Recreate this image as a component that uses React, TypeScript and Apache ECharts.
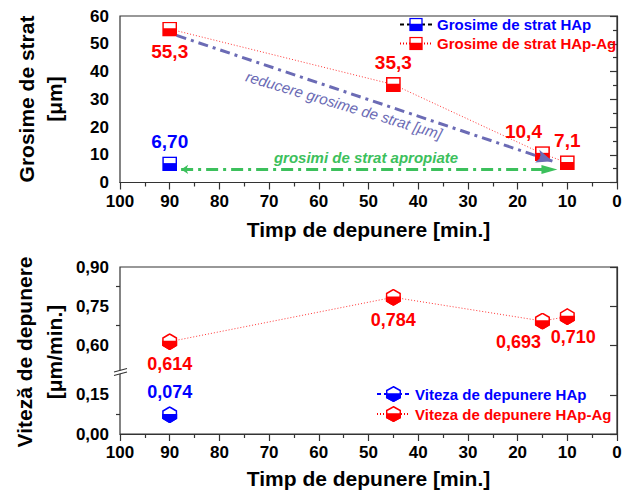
import React, { useEffect, useRef } from 'react';
import * as echarts from 'echarts';

// ---------- data ----------
const timeCategories = [90, 45, 15, 10]; // Timp de depunere [min.]
const thicknessHApTime = [90];
const thicknessHAp = [6.7];
const thicknessHApAg = [55.3, 35.3, 10.4, 7.1];
const rateHApTime = [90];
const rateHAp = [0.074];
const rateHApAg = [0.614, 0.784, 0.693, 0.71];
const rateUpperTicks = [0.6, 0.75, 0.9];
const rateUpperMinor = [0.675, 0.825];
const rateLowerTicks = [0, 0.15];
const rateLowerMinor = [0.075];
const reduceArrow = [[88.6, 53.0], [13.0, 7.7]];
const similarArrow = [[87.7, 4.7], [13.6, 4.7]];

const seriesNames = [
  'Grosime de strat HAp',
  'Grosime de strat HAp-Ag',
  'Viteza de depunere HAp',
  'Viteza de depunere HAp-Ag',
];

// ---------- styles ----------
const FONT = "'Liberation Sans', Arial, sans-serif";
const RED = '#ff0000';
const BLUE = '#0000ff';
const PURPLE = '#6b6bb5';
const GREEN = '#3cc05c';
const AXIS = '#333333';

const topLabelPos = ['bottom', 'top', 'top', 'top'];
const topLabelOffset = [[0, 0], [0, 0], [-19, 0], [0, 0]];
const botLabelOffset = [[0, 0], [0, 0], [-24, -2], [6, -2]];

function svgUri(svg: string) {
  return 'image://data:image/svg+xml;charset=utf-8,' + encodeURIComponent(svg);
}
function squareSymbol(c: string) {
  return svgUri(
    `<svg xmlns="http://www.w3.org/2000/svg" width="30" height="30" viewBox="0 0 15 15"><rect x="0.8" y="0.8" width="13.4" height="13.4" fill="#ffffff" stroke="${c}" stroke-width="1.6"/><rect x="0.8" y="6.7" width="13.4" height="7.5" fill="${c}"/></svg>`
  );
}
function hexSymbol(c: string) {
  return svgUri(
    `<svg xmlns="http://www.w3.org/2000/svg" width="32" height="34" viewBox="0 0 16 17"><polygon points="8,0.8 15.2,4.8 15.2,12.2 8,16.2 0.8,12.2 0.8,4.8" fill="#ffffff" stroke="${c}" stroke-width="1.6" stroke-linejoin="miter"/><polygon points="0.8,8.5 15.2,8.5 15.2,12.2 8,16.2 0.8,12.2" fill="${c}" stroke="${c}" stroke-width="1.6"/></svg>`
  );
}

const fmt = (dec: number) => (p: any) => Number(p.value[1]).toFixed(dec).replace('.', ',');

const tickLine = { color: AXIS, width: 1.2 };
const labelText = { color: '#000', fontSize: 17, fontWeight: 'bold', fontFamily: FONT };
const nameText = { color: '#000', fontSize: 21, fontWeight: 'bold', fontFamily: FONT };

function xAxisFull(gridIndex: number, nameGap: number) {
  return {
    gridIndex,
    type: 'value',
    min: 0,
    max: 100,
    interval: 10,
    inverse: true,
    axisLine: { show: true, lineStyle: tickLine },
    axisTick: { show: true, length: 7, lineStyle: tickLine },
    minorTick: { show: true, splitNumber: 2, length: 4, lineStyle: tickLine },
    axisLabel: { show: true, margin: 10, showMinLabel: true, showMaxLabel: true, ...labelText },
    splitLine: { show: false },
    minorSplitLine: { show: false },
    name: 'Timp de depunere [min.]',
    nameLocation: 'middle',
    nameGap,
    nameMoveOverlap: false,
    nameTextStyle: nameText,
  };
}

function hiddenX(gridIndex: number) {
  return {
    gridIndex,
    type: 'value',
    min: 0,
    max: 100,
    inverse: true,
    axisLine: { show: false },
    axisTick: { show: false },
    axisLabel: { show: false },
    splitLine: { show: false },
  };
}

function customY(gridIndex: number, min: number, max: number, ticks: number[], len: number, labels: boolean) {
  return {
    gridIndex,
    type: 'value',
    position: 'left',
    min,
    max,
    axisLine: { show: labels, lineStyle: tickLine },
    axisTick: { show: true, length: len, customValues: ticks, lineStyle: tickLine },
    axisLabel: {
      show: labels,
      margin: 11,
      customValues: ticks,
      formatter: (v: number) => v.toFixed(2).replace('.', ','),
      ...labelText,
    },
    splitLine: { show: false },
  };
}

export default function App() {
  const ref = useRef<HTMLDivElement>(null);

  useEffect(() => {
    if (!ref.current) return;
    const chart = echarts.init(ref.current, undefined, { renderer: 'svg' });

    const topAgData = timeCategories.map((t, i) => ({
      value: [t, thicknessHApAg[i]],
      label: { position: topLabelPos[i], offset: topLabelOffset[i] },
    }));
    const botAgData = timeCategories.map((t, i) => ({
      value: [t, rateHApAg[i]],
      label: { position: 'bottom', offset: botLabelOffset[i] },
    }));

    const option: any = {
      animation: false,
      backgroundColor: '#ffffff',
      grid: [
        { left: 120, right: 11, top: 16, height: 166.5, show: true, borderColor: AXIS, borderWidth: 1.2, outerBoundsMode: 'none' },
        { left: 120, right: 11, top: 267, height: 107, outerBoundsMode: 'none' },
        { left: 120, right: 11, top: 374, height: 60, outerBoundsMode: 'none' },
        { left: 120, right: 11, top: 267, height: 167, show: true, borderColor: AXIS, borderWidth: 1.2, outerBoundsMode: 'none' },
      ],
      xAxis: [xAxisFull(0, 36), hiddenX(1), xAxisFull(2, 34), { ...hiddenX(3), show: false }],
      yAxis: [
        {
          gridIndex: 0,
          type: 'value',
          min: 0,
          max: 60,
          interval: 10,
          axisLine: { show: true, lineStyle: tickLine },
          axisTick: { show: true, length: 7, lineStyle: tickLine },
          minorTick: { show: true, splitNumber: 2, length: 4, lineStyle: tickLine },
          axisLabel: { show: true, margin: 11, ...labelText },
          splitLine: { show: false },
          minorSplitLine: { show: false },
        },
        customY(1, 0.49, 0.9, rateUpperTicks, 7, true),
        customY(1, 0.49, 0.9, rateUpperMinor, 4, false),
        customY(2, 0, 0.23, rateLowerTicks, 7, true),
        customY(2, 0, 0.23, rateLowerMinor, 4, false),
        { gridIndex: 3, type: 'value', show: false, min: 0, max: 1 },
      ],
      legend: [
        {
          orient: 'vertical',
          left: 399,
          top: 16,
          padding: 0,
          itemWidth: 32,
          itemHeight: 17,
          itemGap: 2,
          selectedMode: false,
          textStyle: { fontSize: 15, lineHeight: 17, fontWeight: 'bold', fontFamily: FONT },
          data: [
            { name: seriesNames[0], textStyle: { color: BLUE } },
            { name: seriesNames[1], textStyle: { color: RED } },
          ],
        },
        {
          orient: 'vertical',
          left: 376,
          top: 385,
          padding: 0,
          itemWidth: 33,
          itemHeight: 20,
          itemGap: 2,
          selectedMode: false,
          textStyle: { fontSize: 15, lineHeight: 18, fontWeight: 'bold', fontFamily: FONT },
          data: [
            { name: seriesNames[2], textStyle: { color: BLUE } },
            { name: seriesNames[3], textStyle: { color: RED } },
          ],
        },
      ],
      series: [
        {
          name: seriesNames[0],
          type: 'line',
          xAxisIndex: 0,
          yAxisIndex: 0,
          data: thicknessHApTime.map((t, i) => [t, thicknessHAp[i]]),
          symbol: squareSymbol(BLUE),
          symbolSize: 15,
          itemStyle: { color: BLUE },
          lineStyle: { color: '#000000', width: 1, type: [4, 3] },
          label: { show: true, position: 'top', distance: 5, formatter: fmt(2), color: BLUE, fontSize: 19, fontWeight: 'bold', fontFamily: FONT },
          emphasis: { disabled: true },
          silent: true,
          z: 3,
        },
        {
          name: seriesNames[1],
          type: 'line',
          xAxisIndex: 0,
          yAxisIndex: 0,
          data: topAgData,
          symbol: squareSymbol(RED),
          symbolSize: 15,
          itemStyle: { color: RED },
          lineStyle: { color: RED, width: 0.8, type: [1, 2] },
          label: { show: true, distance: 5, formatter: fmt(1), color: RED, fontSize: 19, fontWeight: 'bold', fontFamily: FONT },
          emphasis: { disabled: true },
          silent: true,
          z: 3,
        },
        {
          name: 'arrows',
          type: 'scatter',
          xAxisIndex: 0,
          yAxisIndex: 0,
          data: [],
          silent: true,
          z: 5,
          markLine: {
            silent: true,
            animation: false,
            label: { show: false },
            emphasis: { disabled: true },
            data: [
              [
                { coord: reduceArrow[0], symbol: 'none', lineStyle: { color: PURPLE, width: 3, type: [10, 5, 3, 5] } },
                { coord: reduceArrow[1], symbol: 'arrow', symbolSize: [10, 16], lineStyle: { color: PURPLE, width: 3, type: [10, 5, 3, 5] } },
              ],
              [
                { coord: similarArrow[0], symbol: 'arrow', symbolSize: [7, 7], lineStyle: { color: GREEN, width: 3, type: [12, 5, 3, 5] } },
                { coord: similarArrow[1], symbol: 'triangle', symbolSize: [9, 16], lineStyle: { color: GREEN, width: 3, type: [12, 5, 3, 5] } },
              ],
            ],
          },
        },
        {
          name: seriesNames[2],
          type: 'line',
          xAxisIndex: 2,
          yAxisIndex: 3,
          data: rateHApTime.map((t, i) => [t, rateHAp[i]]),
          symbol: hexSymbol(BLUE),
          symbolSize: [16, 17],
          itemStyle: { color: BLUE },
          lineStyle: { color: BLUE, width: 1, type: [4, 3] },
          label: { show: true, position: 'top', distance: 5, formatter: fmt(3), color: BLUE, fontSize: 18, fontWeight: 'bold', fontFamily: FONT },
          emphasis: { disabled: true },
          silent: true,
          z: 3,
        },
        {
          name: seriesNames[3],
          type: 'line',
          xAxisIndex: 1,
          yAxisIndex: 1,
          data: botAgData,
          symbol: hexSymbol(RED),
          symbolSize: [16, 17],
          itemStyle: { color: RED },
          lineStyle: { color: RED, width: 0.8, type: [1, 2] },
          label: { show: true, distance: 5, formatter: fmt(3), color: RED, fontSize: 18, fontWeight: 'bold', fontFamily: FONT },
          emphasis: { disabled: true },
          silent: true,
          z: 3,
        },
      ],
      graphic: [
        {
          type: 'text',
          x: 40,
          y: 99,
          rotation: Math.PI / 2,
          style: {
            text: 'Grosime de strat\n[μm]',
            fill: '#000',
            fontSize: 21,
            fontWeight: 'bold',
            fontFamily: FONT,
            lineHeight: 28,
            align: 'center',
            verticalAlign: 'middle',
          },
        },
        {
          type: 'text',
          x: 39,
          y: 352,
          rotation: Math.PI / 2,
          style: {
            text: 'Viteză de depunere\n[μm/min.]',
            fill: '#000',
            fontSize: 21,
            fontWeight: 'bold',
            fontFamily: FONT,
            lineHeight: 30,
            align: 'center',
            verticalAlign: 'middle',
          },
        },
        {
          type: 'text',
          x: 344,
          y: 105,
          rotation: -0.29,
          style: {
            text: 'reducere grosime de strat [μm]',
            fill: PURPLE,
            fontSize: 15,
            fontStyle: 'italic',
            fontFamily: FONT,
            align: 'center',
            verticalAlign: 'middle',
          },
        },
        {
          type: 'text',
          x: 366,
          y: 157,
          style: {
            text: 'grosimi de strat apropiate',
            fill: GREEN,
            fontSize: 15,
            fontStyle: 'italic',
            fontWeight: 'bold',
            fontFamily: FONT,
            align: 'center',
            verticalAlign: 'middle',
          },
        },
        {
          type: 'polygon',
          z: 100,
          shape: { points: [[114, 372], [127, 368.5], [127, 372], [114, 375.5]] },
          style: { fill: '#ffffff' },
        },
        {
          type: 'line',
          z: 101,
          shape: { x1: 114, y1: 372, x2: 127, y2: 368.5 },
          style: { stroke: AXIS, lineWidth: 1.2 },
        },
        {
          type: 'line',
          z: 101,
          shape: { x1: 114, y1: 375.5, x2: 127, y2: 372 },
          style: { stroke: AXIS, lineWidth: 1.2 },
        },
      ],
    };

    chart.setOption(option);
    return () => chart.dispose();
  }, []);

  return <div ref={ref} style={{ width: 628, height: 493, position: 'absolute', left: 0, top: 0 }} />;
}
